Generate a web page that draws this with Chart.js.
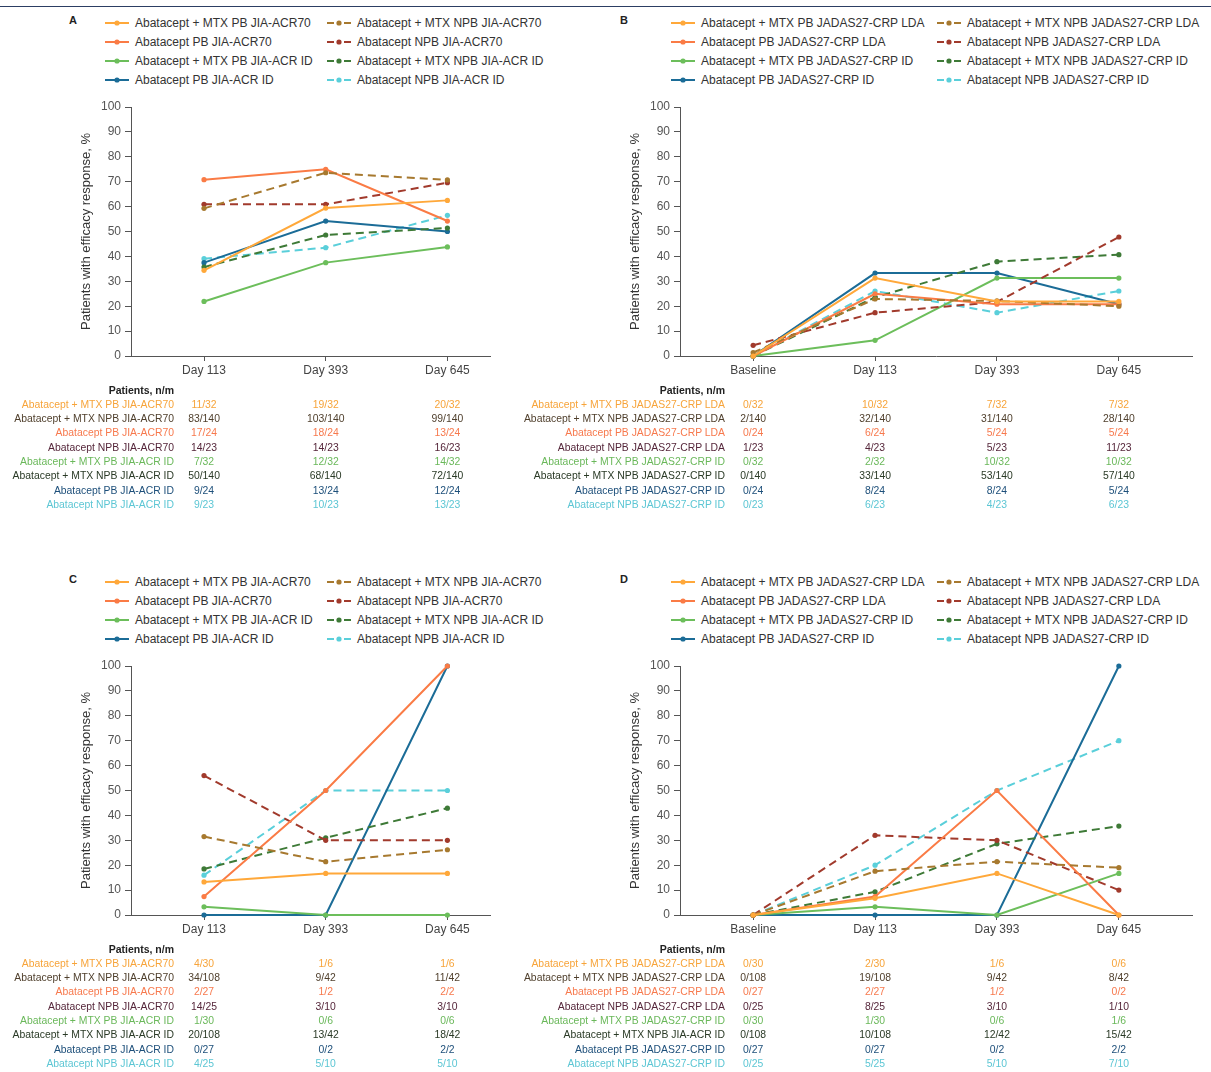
<!DOCTYPE html>
<html>
<head>
<meta charset="utf-8">
<script src="https://cdn.jsdelivr.net/npm/chart.js@4.4.0/dist/chart.umd.min.js"></script>
<style>
  body { margin: 0; background: #fff; font-family: "Liberation Sans", Arial, sans-serif; }
  #page { position: relative; width: 1211px; height: 1072px; overflow: hidden; }
  #topline { position: absolute; left: 0; top: 6px; width: 1211px; height: 1px; background: #2c3e63; }
  .t { position: absolute; white-space: nowrap; line-height: 14px; height: 14px; }
  canvas { position: absolute; }
  svg { position: absolute; }
</style>
</head>
<body>
<div id="page"><div id="topline"></div></div>
<script>
// Categories
const daysAC = ['Day 113', 'Day 393', 'Day 645'];
const daysBD = ['Baseline', 'Day 113', 'Day 393', 'Day 645'];
const yTicks = [0, 10, 20, 30, 40, 50, 60, 70, 80, 90, 100];

// Series names (legend) and table row labels
const acrNames = ['Abatacept + MTX PB JIA-ACR70', 'Abatacept + MTX NPB JIA-ACR70', 'Abatacept PB JIA-ACR70',
  'Abatacept NPB JIA-ACR70', 'Abatacept + MTX PB JIA-ACR ID', 'Abatacept + MTX NPB JIA-ACR ID',
  'Abatacept PB JIA-ACR ID', 'Abatacept NPB JIA-ACR ID'];
const jadasNames = ['Abatacept + MTX PB JADAS27-CRP LDA', 'Abatacept + MTX NPB JADAS27-CRP LDA', 'Abatacept PB JADAS27-CRP LDA',
  'Abatacept NPB JADAS27-CRP LDA', 'Abatacept + MTX PB JADAS27-CRP ID', 'Abatacept + MTX NPB JADAS27-CRP ID',
  'Abatacept PB JADAS27-CRP ID', 'Abatacept NPB JADAS27-CRP ID'];
const jadasRowsD = ['Abatacept + MTX PB JADAS27-CRP LDA', 'Abatacept + MTX NPB JADAS27-CRP LDA', 'Abatacept PB JADAS27-CRP LDA',
  'Abatacept NPB JADAS27-CRP LDA', 'Abatacept + MTX PB JADAS27-CRP ID', 'Abatacept + MTX NPB JIA-ACR ID',
  'Abatacept PB JADAS27-CRP ID', 'Abatacept NPB JADAS27-CRP ID'];

// Response, % (one row per series)
const pctA = [
  [34.4, 59.4, 62.5], [59.3, 73.6, 70.7], [70.8, 75.0, 54.2], [60.9, 60.9, 69.6],
  [21.9, 37.5, 43.8], [35.7, 48.6, 51.4], [37.5, 54.2, 50.0], [39.1, 43.5, 56.5]
];
const pctB = [
  [0, 31.3, 21.9, 21.9], [1.4, 22.9, 22.1, 20.0], [0, 25.0, 20.8, 20.8], [4.3, 17.4, 21.7, 47.8],
  [0, 6.3, 31.3, 31.3], [0, 23.6, 37.9, 40.7], [0, 33.3, 33.3, 20.8], [0, 26.1, 17.4, 26.1]
];
const pctC = [
  [13.3, 16.7, 16.7], [31.5, 21.4, 26.2], [7.4, 50.0, 100], [56.0, 30.0, 30.0],
  [3.3, 0, 0], [18.5, 31.0, 42.9], [0, 0, 100], [16.0, 50.0, 50.0]
];
const pctD = [
  [0, 6.7, 16.7, 0], [0, 17.6, 21.4, 19.0], [0, 7.4, 50.0, 0], [0, 32.0, 30.0, 10.0],
  [0, 3.3, 0, 16.7], [0, 9.3, 28.6, 35.7], [0, 0, 0, 100], [0, 20.0, 50.0, 70.0]
];

// Patients, n/m
const nmA = [
  ['11/32', '19/32', '20/32'], ['83/140', '103/140', '99/140'], ['17/24', '18/24', '13/24'], ['14/23', '14/23', '16/23'],
  ['7/32', '12/32', '14/32'], ['50/140', '68/140', '72/140'], ['9/24', '13/24', '12/24'], ['9/23', '10/23', '13/23']
];
const nmB = [
  ['0/32', '10/32', '7/32', '7/32'], ['2/140', '32/140', '31/140', '28/140'], ['0/24', '6/24', '5/24', '5/24'],
  ['1/23', '4/23', '5/23', '11/23'], ['0/32', '2/32', '10/32', '10/32'], ['0/140', '33/140', '53/140', '57/140'],
  ['0/24', '8/24', '8/24', '5/24'], ['0/23', '6/23', '4/23', '6/23']
];
const nmC = [
  ['4/30', '1/6', '1/6'], ['34/108', '9/42', '11/42'], ['2/27', '1/2', '2/2'], ['14/25', '3/10', '3/10'],
  ['1/30', '0/6', '0/6'], ['20/108', '13/42', '18/42'], ['0/27', '0/2', '2/2'], ['4/25', '5/10', '5/10']
];
const nmD = [
  ['0/30', '2/30', '1/6', '0/6'], ['0/108', '19/108', '9/42', '8/42'], ['0/27', '2/27', '1/2', '0/2'],
  ['0/25', '8/25', '3/10', '1/10'], ['0/30', '1/30', '0/6', '1/6'], ['0/108', '10/108', '12/42', '15/42'],
  ['0/27', '0/27', '0/2', '2/2'], ['0/25', '5/25', '5/10', '7/10']
];

// Styles
const lineColors = ['#FFA83A', '#A7792F', '#FA7B45', '#A13A2C', '#6CBE5B', '#3E7A37', '#1B6C97', '#5ACFDA'];
const textColors = ['#F7A43A', '#4F3F2C', '#F7794D', '#55263A', '#6AB85A', '#2A3A26', '#1D4F7A', '#5CC6D4'];
const dashed = [false, true, false, true, false, true, false, true];
const FONT = '"Liberation Sans", Arial, sans-serif';
Chart.defaults.font.family = FONT;

const page = document.getElementById('page');

function addText(text, x, y, size, color, align, bold) {
  const d = document.createElement('div');
  d.className = 't';
  d.textContent = text;
  d.style.left = x + 'px';
  d.style.top = (y - 7) + 'px';
  d.style.fontSize = size + 'px';
  d.style.color = color;
  if (bold) d.style.fontWeight = 'bold';
  if (align === 'right') d.style.transform = 'translateX(-100%)';
  if (align === 'center') d.style.transform = 'translateX(-50%)';
  page.appendChild(d);
}

function addSwatch(x, y, k) {
  const ns = 'http://www.w3.org/2000/svg';
  const svg = document.createElementNS(ns, 'svg');
  svg.setAttribute('width', 24);
  svg.setAttribute('height', 8);
  svg.style.left = x + 'px';
  svg.style.top = (y - 4) + 'px';
  const ln = document.createElementNS(ns, 'line');
  ln.setAttribute('x1', 0); ln.setAttribute('y1', 4);
  ln.setAttribute('x2', 24); ln.setAttribute('y2', 4);
  ln.setAttribute('stroke', lineColors[k]);
  ln.setAttribute('stroke-width', 2);
  if (dashed[k]) ln.setAttribute('stroke-dasharray', '7,10');
  const c = document.createElementNS(ns, 'circle');
  c.setAttribute('cx', 12); c.setAttribute('cy', 4); c.setAttribute('r', 2.6);
  c.setAttribute('fill', lineColors[k]);
  svg.appendChild(ln);
  svg.appendChild(c);
  page.appendChild(svg);
}

const panels = [
  { letter: 'A', cats: daysAC, names: acrNames, rows: acrNames, pct: pctA, nm: nmA, dy: 0,
    axisX: 131, right: 505, xMax: 2.35, leg1: 105, leg2: 327, letterX: 69, labelRight: 174 },
  { letter: 'B', cats: daysBD, names: jadasNames, rows: jadasNames, pct: pctB, nm: nmB, dy: 0,
    axisX: 680, right: 1207, xMax: 3.6, leg1: 671, leg2: 937, letterX: 620, labelRight: 725 },
  { letter: 'C', cats: daysAC, names: acrNames, rows: acrNames, pct: pctC, nm: nmC, dy: 559,
    axisX: 131, right: 505, xMax: 2.35, leg1: 105, leg2: 327, letterX: 69, labelRight: 174 },
  { letter: 'D', cats: daysBD, names: jadasNames, rows: jadasRowsD, pct: pctD, nm: nmD, dy: 559,
    axisX: 680, right: 1207, xMax: 3.6, leg1: 671, leg2: 937, letterX: 620, labelRight: 725 }
];

panels.forEach(p => {
  // panel letter
  addText(p.letter, p.letterX, 20 + p.dy, 11, '#222', 'left', true);

  // legend: two columns (PB left, NPB right)
  p.names.forEach((name, k) => {
    const col = k % 2;
    const row = Math.floor(k / 2);
    const x = col === 0 ? p.leg1 : p.leg2;
    const y = 23 + row * 19 + p.dy;
    addSwatch(x, y, k);
    addText(name, x + 30, y, 12, '#333', 'left', false);
  });

  // chart
  const canvas = document.createElement('canvas');
  const cLeft = p.axisX - 56;
  const cTop = 95 + p.dy;
  canvas.width = p.right - cLeft;
  canvas.height = 290;
  canvas.style.left = cLeft + 'px';
  canvas.style.top = cTop + 'px';
  page.appendChild(canvas);

  const chart = new Chart(canvas, {
    type: 'line',
    data: {
      datasets: p.pct.map((vals, k) => ({
        label: p.names[k],
        data: vals.map((v, i) => ({ x: i, y: v })),
        borderColor: lineColors[k],
        backgroundColor: lineColors[k],
        borderWidth: 2,
        borderDash: dashed[k] ? [8, 5] : [],
        pointRadius: 2.6,
        pointBorderWidth: 0,
        pointBackgroundColor: lineColors[k],
        tension: 0,
        clip: false
      }))
    },
    options: {
      responsive: false,
      animation: false,
      events: [],
      layout: { padding: { top: 12, right: 15, bottom: 0, left: 0 } },
      plugins: { legend: { display: false }, tooltip: { enabled: false } },
      scales: {
        x: {
          type: 'linear',
          min: -0.6,
          max: p.xMax,
          bounds: 'data',
          afterBuildTicks: s => { s.ticks = p.cats.map((c, i) => ({ value: i })); },
          afterFit: s => { s.height = 29; },
          grid: { drawOnChartArea: false, drawTicks: true, tickLength: 5, color: '#555' },
          border: { color: '#555', width: 1 },
          ticks: { callback: v => p.cats[v], font: { size: 12 }, color: '#444', padding: 2, maxRotation: 0, autoSkip: false }
        },
        y: {
          min: 0,
          max: 100,
          afterBuildTicks: s => { s.ticks = yTicks.map(v => ({ value: v })); },
          afterFit: s => { s.width = 56; },
          grid: { drawOnChartArea: false, drawTicks: true, tickLength: 6, color: '#555' },
          border: { color: '#555', width: 1 },
          ticks: { font: { size: 12 }, color: '#555', padding: 4 },
          title: { display: true, text: 'Patients with efficacy response, %', font: { size: 13 }, color: '#333', padding: { top: 4, bottom: 0 } }
        }
      }
    }
  });

  // table of n/m under the chart
  const xs = p.cats.map((c, i) => cLeft + chart.scales.x.getPixelForValue(i));
  addText('Patients, n/m', p.labelRight, 390 + p.dy, 10.5, '#222', 'right', true);
  p.rows.forEach((label, k) => {
    const y = 404.5 + k * 14.36 + p.dy;
    addText(label, p.labelRight, y, 10.4, textColors[k], 'right', false);
    p.nm[k].forEach((val, i) => addText(val, xs[i], y, 10.4, textColors[k], 'center', false));
  });
});
</script>
</body>
</html>
